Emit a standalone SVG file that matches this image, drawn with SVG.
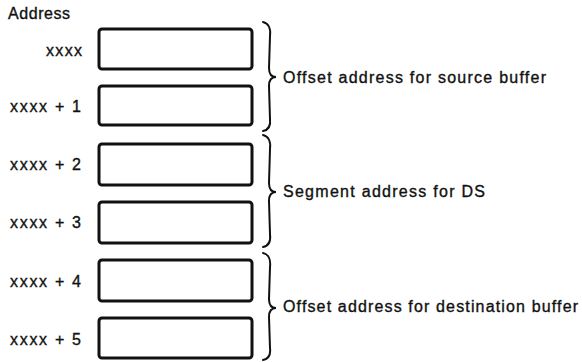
<svg xmlns="http://www.w3.org/2000/svg" width="582" height="362" viewBox="0 0 582 362">
<style>
.t{font-family:"Liberation Sans",Arial,sans-serif;font-size:16px;fill:#111;stroke:#111;stroke-width:0.35}
.b{fill:#fff;stroke:#111;stroke-width:3}
.br{fill:none;stroke:#111;stroke-width:2;stroke-linecap:round}
</style>
<rect width="582" height="362" fill="#fff"/>
<text class="t" x="8" y="19" textLength="62" lengthAdjust="spacing">Address</text>
<g id="m0"><rect class="b" x="99" y="29" width="153" height="40" rx="3"/><text class="t" x="46" y="56" textLength="36" lengthAdjust="spacing">xxxx</text></g>
<g id="m1"><rect class="b" x="99" y="86" width="153" height="39" rx="3"/><text class="t" x="10" y="112" textLength="71" lengthAdjust="spacing">xxxx + 1</text></g>
<g id="m2"><rect class="b" x="99" y="144" width="153" height="41" rx="3"/><text class="t" x="10" y="170" textLength="71" lengthAdjust="spacing">xxxx + 2</text></g>
<g id="m3"><rect class="b" x="99" y="202" width="153" height="41" rx="3"/><text class="t" x="10" y="228" textLength="71" lengthAdjust="spacing">xxxx + 3</text></g>
<g id="m4"><rect class="b" x="99" y="260" width="153" height="41" rx="3"/><text class="t" x="10" y="287" textLength="71" lengthAdjust="spacing">xxxx + 4</text></g>
<g id="m5"><rect class="b" x="99" y="318" width="153" height="40" rx="3"/><text class="t" x="10" y="345" textLength="71" lengthAdjust="spacing">xxxx + 5</text></g>
<g id="connectors">
<path class="br" d="M263,22 C268,23 271,28 270,36 L269,68 C269,74 271,77 276,77 C271,77 269,80 269,86 L270,119 C271,127 268,130 263,131"/>
<path class="br" d="M263,135 C268,136 271,141 270,149 L269,183 C269,189 271,192 276,192 C271,192 269,195 269,201 L270,234 C271,242 268,246 263,247"/>
<path class="br" d="M263,253 C268,254 271,259 270,267 L269,299 C269,305 271,308 276,308 C271,308 269,311 269,317 L270,348 C271,356 268,359 263,360"/>
</g>
<g id="n-src"><text class="t" x="283" y="83" textLength="263" lengthAdjust="spacing">Offset address for source buffer</text></g>
<g id="n-ds"><text class="t" x="283" y="197" textLength="202" lengthAdjust="spacing">Segment address for DS</text></g>
<g id="n-dst"><text class="t" x="283" y="312" textLength="295" lengthAdjust="spacing">Offset address for destination buffer</text></g>
</svg>
